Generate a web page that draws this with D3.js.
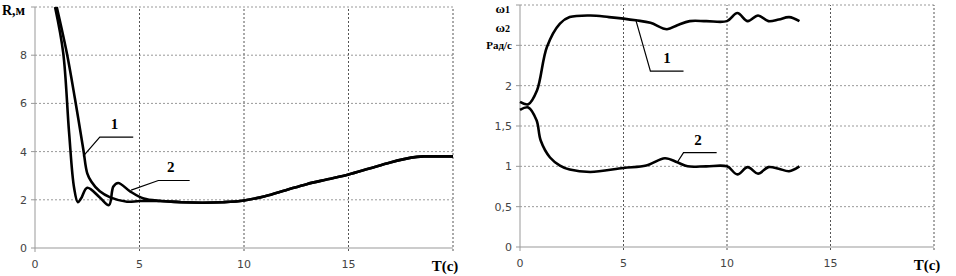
<!DOCTYPE html>
<html><head><meta charset="utf-8">
<script src="https://cdn.jsdelivr.net/npm/d3@7"></script>
<style>body{margin:0;background:#fff}svg{display:block}</style>
</head><body>
<svg id="c" width="956" height="276"></svg>
<script>
// Left chart: R(t)
const tR1 = [1.04, 1.52, 1.91, 2.31, 2.5, 2.7, 3.1, 3.6, 4.4, 5, 6, 7, 8, 9, 10, 11, 12, 13, 14, 15, 16, 17, 18, 18.6, 19.3, 20];
const r1  = [10, 8.1, 6.2, 4.1, 3.1, 2.75, 2.35, 2.1, 1.92, 1.95, 1.95, 1.9, 1.88, 1.9, 1.97, 2.15, 2.4, 2.65, 2.85, 3.05, 3.3, 3.55, 3.75, 3.8, 3.8, 3.8];
const tR2 = [0.96, 1.35, 1.63, 1.87, 2.05, 2.2, 2.5, 3.1, 3.54, 3.75, 3.98, 4.55, 5.2, 6, 7, 8, 9, 10, 11, 12, 13, 14, 15, 16, 17, 18, 18.6, 19.3, 20];
const r2  = [10, 8.1, 4.8, 2.5, 1.9, 2.05, 2.5, 2.1, 1.78, 2.55, 2.7, 2.35, 2.05, 1.95, 1.9, 1.88, 1.9, 1.97, 2.15, 2.4, 2.65, 2.85, 3.05, 3.3, 3.55, 3.75, 3.8, 3.8, 3.8];
const xTicksL = [0, 5, 10, 15];
const yTicksL = [0, 2, 4, 6, 8];

// Right chart: omega(t)
const tW1 = [0, 0.4, 0.82, 1.3, 1.93, 2.4, 3.4, 4.3, 5.6, 6.3, 7.1, 7.6, 8.2, 9, 10, 10.5, 11.0, 11.5, 12.0, 12.5, 13.0, 13.5];
const w1  = [1.8, 1.77, 1.94, 2.48, 2.77, 2.85, 2.87, 2.85, 2.81, 2.78, 2.70, 2.75, 2.80, 2.80, 2.80, 2.9, 2.80, 2.87, 2.80, 2.82, 2.85, 2.80];
const tW2 = [0, 0.4, 0.8, 1.0, 1.45, 1.93, 2.4, 3.4, 5, 6.1, 7, 7.6, 8.1, 9, 10, 10.5, 11.0, 11.5, 12, 12.5, 13, 13.5];
const w2  = [1.7, 1.73, 1.57, 1.32, 1.11, 1.01, 0.96, 0.93, 0.98, 1.01, 1.1, 1.05, 1.0, 1.0, 1.0, 0.9, 0.99, 0.91, 0.99, 0.97, 0.94, 1.0];
const xTicksR = [0, 5, 10, 15];
const yTicksR = [0, 0.5, 1, 1.5, 2];
const yLabelsR = ["0", "0,5", "1", "1,5", "2"];

const svg = d3.select("#c");
const serif = "Liberation Serif";
const sans = "DejaVu Sans";

function panel(o) {
  const x = d3.scaleLinear().domain([0, 20]).range([o.x0, o.x1]);
  const y = d3.scaleLinear().domain([0, o.ymax]).range([o.y0, o.y1]);
  const g = svg.append("g");
  g.selectAll(".hg").data(o.hgrid).join("line")
    .attr("x1", x(0)).attr("x2", x(20)).attr("y1", d => y(d)).attr("y2", d => y(d))
    .attr("stroke", "#999").attr("stroke-width", 1).attr("stroke-dasharray", "2,2");
  g.selectAll(".vg").data([5, 10, 15, 20]).join("line")
    .attr("x1", d => x(d)).attr("x2", d => x(d)).attr("y1", y(0) + 3).attr("y2", y(o.ymax))
    .attr("stroke", "#555").attr("stroke-width", 1).attr("stroke-dasharray", "2,2");
  g.append("line").attr("x1", x(0)).attr("x2", x(20)).attr("y1", y(0)).attr("y2", y(0)).attr("stroke", "#999");
  g.append("line").attr("x1", x(0)).attr("x2", x(0)).attr("y1", y(0)).attr("y2", y(o.ymax)).attr("stroke", "#999");
  g.selectAll(".yt").data(o.ytickMarks).join("line")
    .attr("x1", x(0) - 4).attr("x2", x(0)).attr("y1", d => y(d)).attr("y2", d => y(d)).attr("stroke", "#999");
  g.append("line").attr("x1", x(0)).attr("x2", x(0)).attr("y1", y(0)).attr("y2", y(0) + 4).attr("stroke", "#999");
  g.selectAll(".yl").data(o.yticks).join("text")
    .attr("x", x(0) - 8).attr("y", d => y(d) + 4).attr("text-anchor", "end")
    .attr("font-family", sans).attr("font-size", 11).attr("fill", "#444")
    .text((d, i) => o.ylabels ? o.ylabels[i] : d);
  g.selectAll(".xl").data(o.xticks).join("text")
    .attr("x", d => x(d)).attr("y", y(0) + 20).attr("text-anchor", "middle")
    .attr("font-family", sans).attr("font-size", 11).attr("fill", "#444").text(d => d);
  g.append("text").attr("x", x(20) + o.tdx).attr("y", y(0) + 23).attr("text-anchor", "middle")
    .attr("font-family", serif).attr("font-weight", "bold").attr("font-size", 15).text("T(с)");
  const line = d3.line().x(d => x(d[0])).y(d => y(d[1])).curve(d3.curveCatmullRom.alpha(0.5));
  o.series.forEach(s => {
    g.append("path").datum(d3.zip(s.t, s.v)).attr("d", line)
      .attr("fill", "none").attr("stroke", "#000").attr("stroke-width", 2.6).attr("stroke-linejoin", "round");
  });
  o.leaders.forEach(L => {
    g.append("path").attr("d", d3.line()(L.pts.map(p => [x(p[0]), y(p[1])])))
      .attr("fill", "none").attr("stroke", "#000").attr("stroke-width", 1.2);
    g.append("text").attr("x", x(L.lab[0])).attr("y", y(L.lab[1])).attr("text-anchor", "middle")
      .attr("font-family", serif).attr("font-weight", "bold").attr("font-size", 15).text(L.text);
  });
  return {x, y, g};
}

const L = panel({x0: 35, x1: 453, y0: 248, y1: 7, ymax: 10,
  hgrid: [2, 4, 6, 8, 10], yticks: yTicksL, ytickMarks: [0, 2, 4, 6, 8, 10], xticks: xTicksL, tdx: -8,
  series: [{t: tR1, v: r1}, {t: tR2, v: r2}],
  leaders: [
    {pts: [[2.3, 3.8], [3.1, 4.6], [4.7, 4.6]], lab: [3.8, 4.95], text: "1"},
    {pts: [[4.6, 2.4], [5.9, 2.8], [7.4, 2.8]], lab: [6.5, 3.15], text: "2"}
  ]});
L.g.append("text").attr("x", 2).attr("y", 15).attr("font-family", serif).attr("font-weight", "bold")
  .attr("font-size", 14).text("R,м");

const R = panel({x0: 520, x1: 934, y0: 247, y1: 5, ymax: 3,
  hgrid: [0.5, 1, 1.5, 2, 2.5, 3], yticks: yTicksR, ylabels: yLabelsR, ytickMarks: [0, 0.5, 1, 1.5, 2, 2.5, 3], xticks: xTicksR, tdx: -7,
  series: [{t: tW1, v: w1}, {t: tW2, v: w2}],
  leaders: [
    {pts: [[5.6, 2.81], [6.3, 2.18], [7.9, 2.18]], lab: [7.1, 2.28], text: "1"},
    {pts: [[7.6, 1.05], [7.9, 1.17], [9.5, 1.17]], lab: [8.6, 1.27], text: "2"}
  ]});
function omega(y, sub) {
  const t = R.g.append("text").attr("x", 510).attr("y", y).attr("text-anchor", "end")
    .attr("font-family", serif).attr("font-weight", "bold").attr("font-size", 13);
  t.append("tspan").text("ω");
  t.append("tspan").attr("font-size", 10).text(sub);
}
omega(12.5, "1");
omega(32, "2");
R.g.append("text").attr("x", 512).attr("y", R.y(2.5) + 4).attr("text-anchor", "end")
  .attr("font-family", serif).attr("font-weight", "bold").attr("font-size", 11).text("Рад/с");
</script>
</body></html>
